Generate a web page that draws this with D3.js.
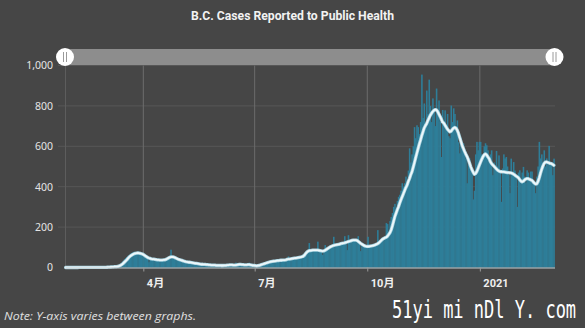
<!DOCTYPE html>
<html><head><meta charset="utf-8">
<script src="https://cdn.jsdelivr.net/npm/d3@7"></script>
<style>
html,body{margin:0;padding:0;background:#464646;}
svg{display:block;}
</style></head><body>
<svg id="chart" width="585" height="328"></svg>
<script>
const chartTitle = "B.C. Cases Reported to Public Health";
const startDate = "2020-01-28";
const dailyCases = [
 1,0,0,0,
 0,0,0,1,0,0,0,0,0,0, 0,0,0,0,0,1,0,0,0,0, 0,1,1,0,2,1,0,0,1,
 1,1,2,1,3,4,2,4,5,5, 8,12,18,25,33,40,47,52,58,62, 68,72,75,78,76,74,78,70,72,62,58,
 55,52,48,45,26,44,40,38,42,39, 36,37,40,35,38,34,40,36,42,45, 50,55,88,55,50,46,42,40,38,36,
 35,31,30,27,28,25,26,23,24,21, 22,19,21,18,19,16,17,15,16,14, 15,13,14,12,13,11,12,12,11,12,10,
 10,12,9,11,10,12,10,13,11,14, 12,14,11,13,24,14,16,15,13,15, 12,14,13,15,13,24,12,11,10,9,
 8,7,10,12,14,16,18,20,22,25, 27,29,31,30,32,30,34,35,33,36, 34,38,37,36,40,38,42,55,44,45,47,
 44,46,48,47,50,49,52,54,56,62, 72,78,85,121,84,86,88,84,90,86, 128,84,80,82,62,85,111,92,95,100,104,
 105,108,152,110,112,114,112,118,120,122, 121,155,126,86,160,132,134,138,135,137, 140,132,155,120,81,115,110,106,108,104,
 152,106,108,110,112,114,116,120,185,128, 132,136,142,148,150,220,215,170,230,250, 270,300,315,290,330,350,360,380,417,400,417,
 450,420,480,590,520,560,600,695,640,704, 695,660,720,955,740,812,700,876,760,930, 800,720,837,780,700,886,760,827,720,547,
 780,720,778,700,760,650,640,802,720,788, 760,700,728,620,565,640,597,614,580,540, 417,520,540,500,480,337,380,560,622,580,622,
 622,560,540,600,615,605,580,540,560,580, 457,520,500,577,500,555,480,325,490,560, 540,547,500,460,368,539,470,522,480,460,300,
 470,481,430,470,498,450,420,481,470,440, 475,475,430,410,368,450,500,622,540,560, 520,580,500,540,510,602,520,520,
 457,539
];
const sevenDayAvg = [
 0,0,0,0,
 0,0,0,0,0.1,0.1,0.1,0.3,0.3,0.3, 0.4,0.4,0.4,0.4,0.4,0.4,0.3,0.3,0.3,0.3, 0.3,0.4,0.4,0.4,0.6,0.7,0.7,0.7,0.9,
 1,1.2,1.5,2,2.5,3,3.5,4,4.5,5, 6,8,11,15,20,26,32,38,45,52, 57,61,65,68,70,71,72,71,70,68,66,
 62,58,54,50,47,45,43,42,41,40, 39,38,38,37,37,37,38,38,40,43, 47,50,52,53,52,50,47,44,41,39,
 37,35,33,31,29,28,27,26,25,24, 23,22,21,20,19,18,17,16,16,15, 15,14,14,13,13,12,12,12,12,11,11,
 11,11,10,10,10,11,11,12,12,13, 13,13,12,12,12,13,14,15,15,14, 14,13,13,13,14,14,13,12,11,10,
 9,8,9,10,12,14,16,18,20,22, 24,26,28,29,30,31,32,33,34,34, 35,36,36,37,37,38,40,41,42,43,44,
 45,46,47,48,49,50,51,53,55,60, 68,75,80,83,84,85,86,86,86,86, 86,85,83,82,81,82,85,89,93,97,101,
 104,107,109,111,112,113,114,116,118,120, 121,122,124,126,128,130,132,134,135,136, 136,134,130,125,120,116,112,108,106,105,
 104,105,106,107,108,110,112,115,118,122, 128,134,140,144,147,150,155,163,172,185, 205,228,251,268,285,300,318,335,350,365,380,
 395,407,425,440,458,473,495,518,542,565, 588,610,630,652,671,690,702,712,727,740, 753,763,772,778,782,780,772,760,748,735,
 720,715,705,695,685,678,672,675,683,690, 693,690,680,665,645,625,605,590,575,562, 550,535,518,500,485,472,462,465,475,490,505,
 520,535,548,558,562,558,548,540,525,515, 508,502,495,488,482,478,475,474,473,473, 472,471,470,470,469,468,466,462,458,453,449,
 444,436,428,424,427,433,438,440,440,437, 434,432,425,418,413,414,425,443,465,485, 502,515,522,523,520,518,515,514,
 510,506
];
const yTicks = [0,200,400,600,800,1000];
const xTickDates = ["2020-04-01","2020-07-01","2020-10-01","2021-01-01"];
const xTickLabels = ["4月","7月","10月","2021"];
const noteText = "Note: Y-axis varies between graphs.";
const watermarkText = "51yi mi nDl Y. com";

const svg = d3.select("#chart");
const parse = d3.utcParse("%Y-%m-%d");
const t0 = parse(startDate);
const days = dailyCases.map((v,i)=>({date:d3.utcDay.offset(t0,i), v, avg: sevenDayAvg[i]}));

const x = d3.scaleUtc().domain([t0, d3.utcDay.offset(t0, dailyCases.length)]).range([65, 554.5]);
const y = d3.scaleLinear().domain([0,1000]).range([267.5, 65.5]);

svg.append("rect").attr("width",585).attr("height",328).attr("fill","#464646");

svg.append("text").attr("x",292.5).attr("y",20).attr("text-anchor","middle")
  .attr("fill","#f2f2f2").attr("font-family","Roboto, 'Noto Sans', sans-serif")
  .attr("font-weight","700").attr("font-size","12.5px")
  .attr("textLength",203).attr("lengthAdjust","spacingAndGlyphs").text(chartTitle);

svg.append("g").selectAll("line").data(yTicks.filter(d=>d>0)).join("line")
  .attr("x1",58).attr("x2",555).attr("y1",d=>y(d)).attr("y2",d=>y(d))
  .attr("stroke","#575757").attr("stroke-width",1);
svg.append("line").attr("x1",65.5).attr("x2",65.5).attr("y1",y(1000)).attr("y2",y(0))
  .attr("stroke","#5d5d5d");
svg.append("g").selectAll("line").data(xTickDates.map(parse)).join("line")
  .attr("x1",d=>x(d)).attr("x2",d=>x(d)).attr("y1",y(1000)).attr("y2",y(0))
  .attr("stroke","#6c6c6c").attr("stroke-width",1);

svg.append("g").selectAll("rect").data(days).join("rect")
  .attr("x",d=>x(d.date))
  .attr("width",d=>x(d3.utcDay.offset(d.date,1))-x(d.date)+0.35)
  .attr("y",d=>y(d.v))
  .attr("height",d=>y(0)-y(d.v))
  .attr("fill","#2e7e99");

const line = d3.line().x(d=>x(d.date)+ (x(d3.utcDay.offset(d.date,1))-x(d.date))/2).y(d=>y(d.avg));
svg.append("path").datum(days).attr("d",line).attr("fill","none")
  .attr("stroke","#a9d3e0").attr("stroke-width",3.3).attr("stroke-linejoin","round").attr("stroke-linecap","round");
svg.append("path").datum(days).attr("d",line).attr("fill","none")
  .attr("stroke","#eef8fb").attr("stroke-width",1.8).attr("stroke-linejoin","round").attr("stroke-linecap","round");

const yAxis = svg.append("g").attr("transform","translate(53,0)")
  .call(d3.axisLeft(y).tickValues(yTicks).tickFormat(d3.format(",")).tickSize(0).tickPadding(0));
yAxis.select(".domain").remove();
yAxis.selectAll("text").attr("fill","#e4e4e4").attr("font-size","10.5px")
  .attr("font-family","'Noto Sans', 'Open Sans', sans-serif");

const xAxis = svg.append("g").attr("transform",`translate(0,${y(0)})`)
  .call(d3.axisBottom(x).tickValues(xTickDates.map(parse)).tickFormat((d,i)=>xTickLabels[i]).tickSize(4).tickSizeOuter(0));
xAxis.select(".domain").attr("stroke","#c3ced2").attr("stroke-width",1.2);
xAxis.selectAll(".tick line").attr("stroke","#9a9a9a");
xAxis.selectAll("text").attr("text-anchor","start").attr("x",3).attr("y",19).attr("dy",0)
  .attr("fill","#efefef").attr("font-size","11px").attr("font-weight","700")
  .attr("font-family","Roboto, 'Noto Sans CJK SC', sans-serif");

svg.append("rect").attr("x",65).attr("y",49).attr("width",489.5).attr("height",16).attr("fill","#8d8d8d");
const handles = svg.append("g").selectAll("g").data([x.range()[0], x.range()[1]]).join("g")
  .attr("transform",d=>`translate(${d},57)`);
handles.append("circle").attr("r",9).attr("fill","#ffffff");
handles.append("line").attr("x1",-1.5).attr("x2",-1.5).attr("y1",-5).attr("y2",5).attr("stroke","#9a9a9a");
handles.append("line").attr("x1",1.5).attr("x2",1.5).attr("y1",-5).attr("y2",5).attr("stroke","#9a9a9a");

svg.append("text").attr("x",4).attr("y",320).attr("fill","#e0e0e0")
  .attr("font-family","'Open Sans', 'Noto Sans', sans-serif").attr("font-style","italic")
  .attr("font-size","10px").attr("textLength",192).attr("lengthAdjust","spacingAndGlyphs").text(noteText);

svg.append("text").attr("transform","translate(392,318) scale(1,1.45)").attr("fill","#ffffff")
  .attr("font-family","'DejaVu Sans Mono', monospace").attr("font-size","17px")
  .text(watermarkText);
</script>
</body></html>
